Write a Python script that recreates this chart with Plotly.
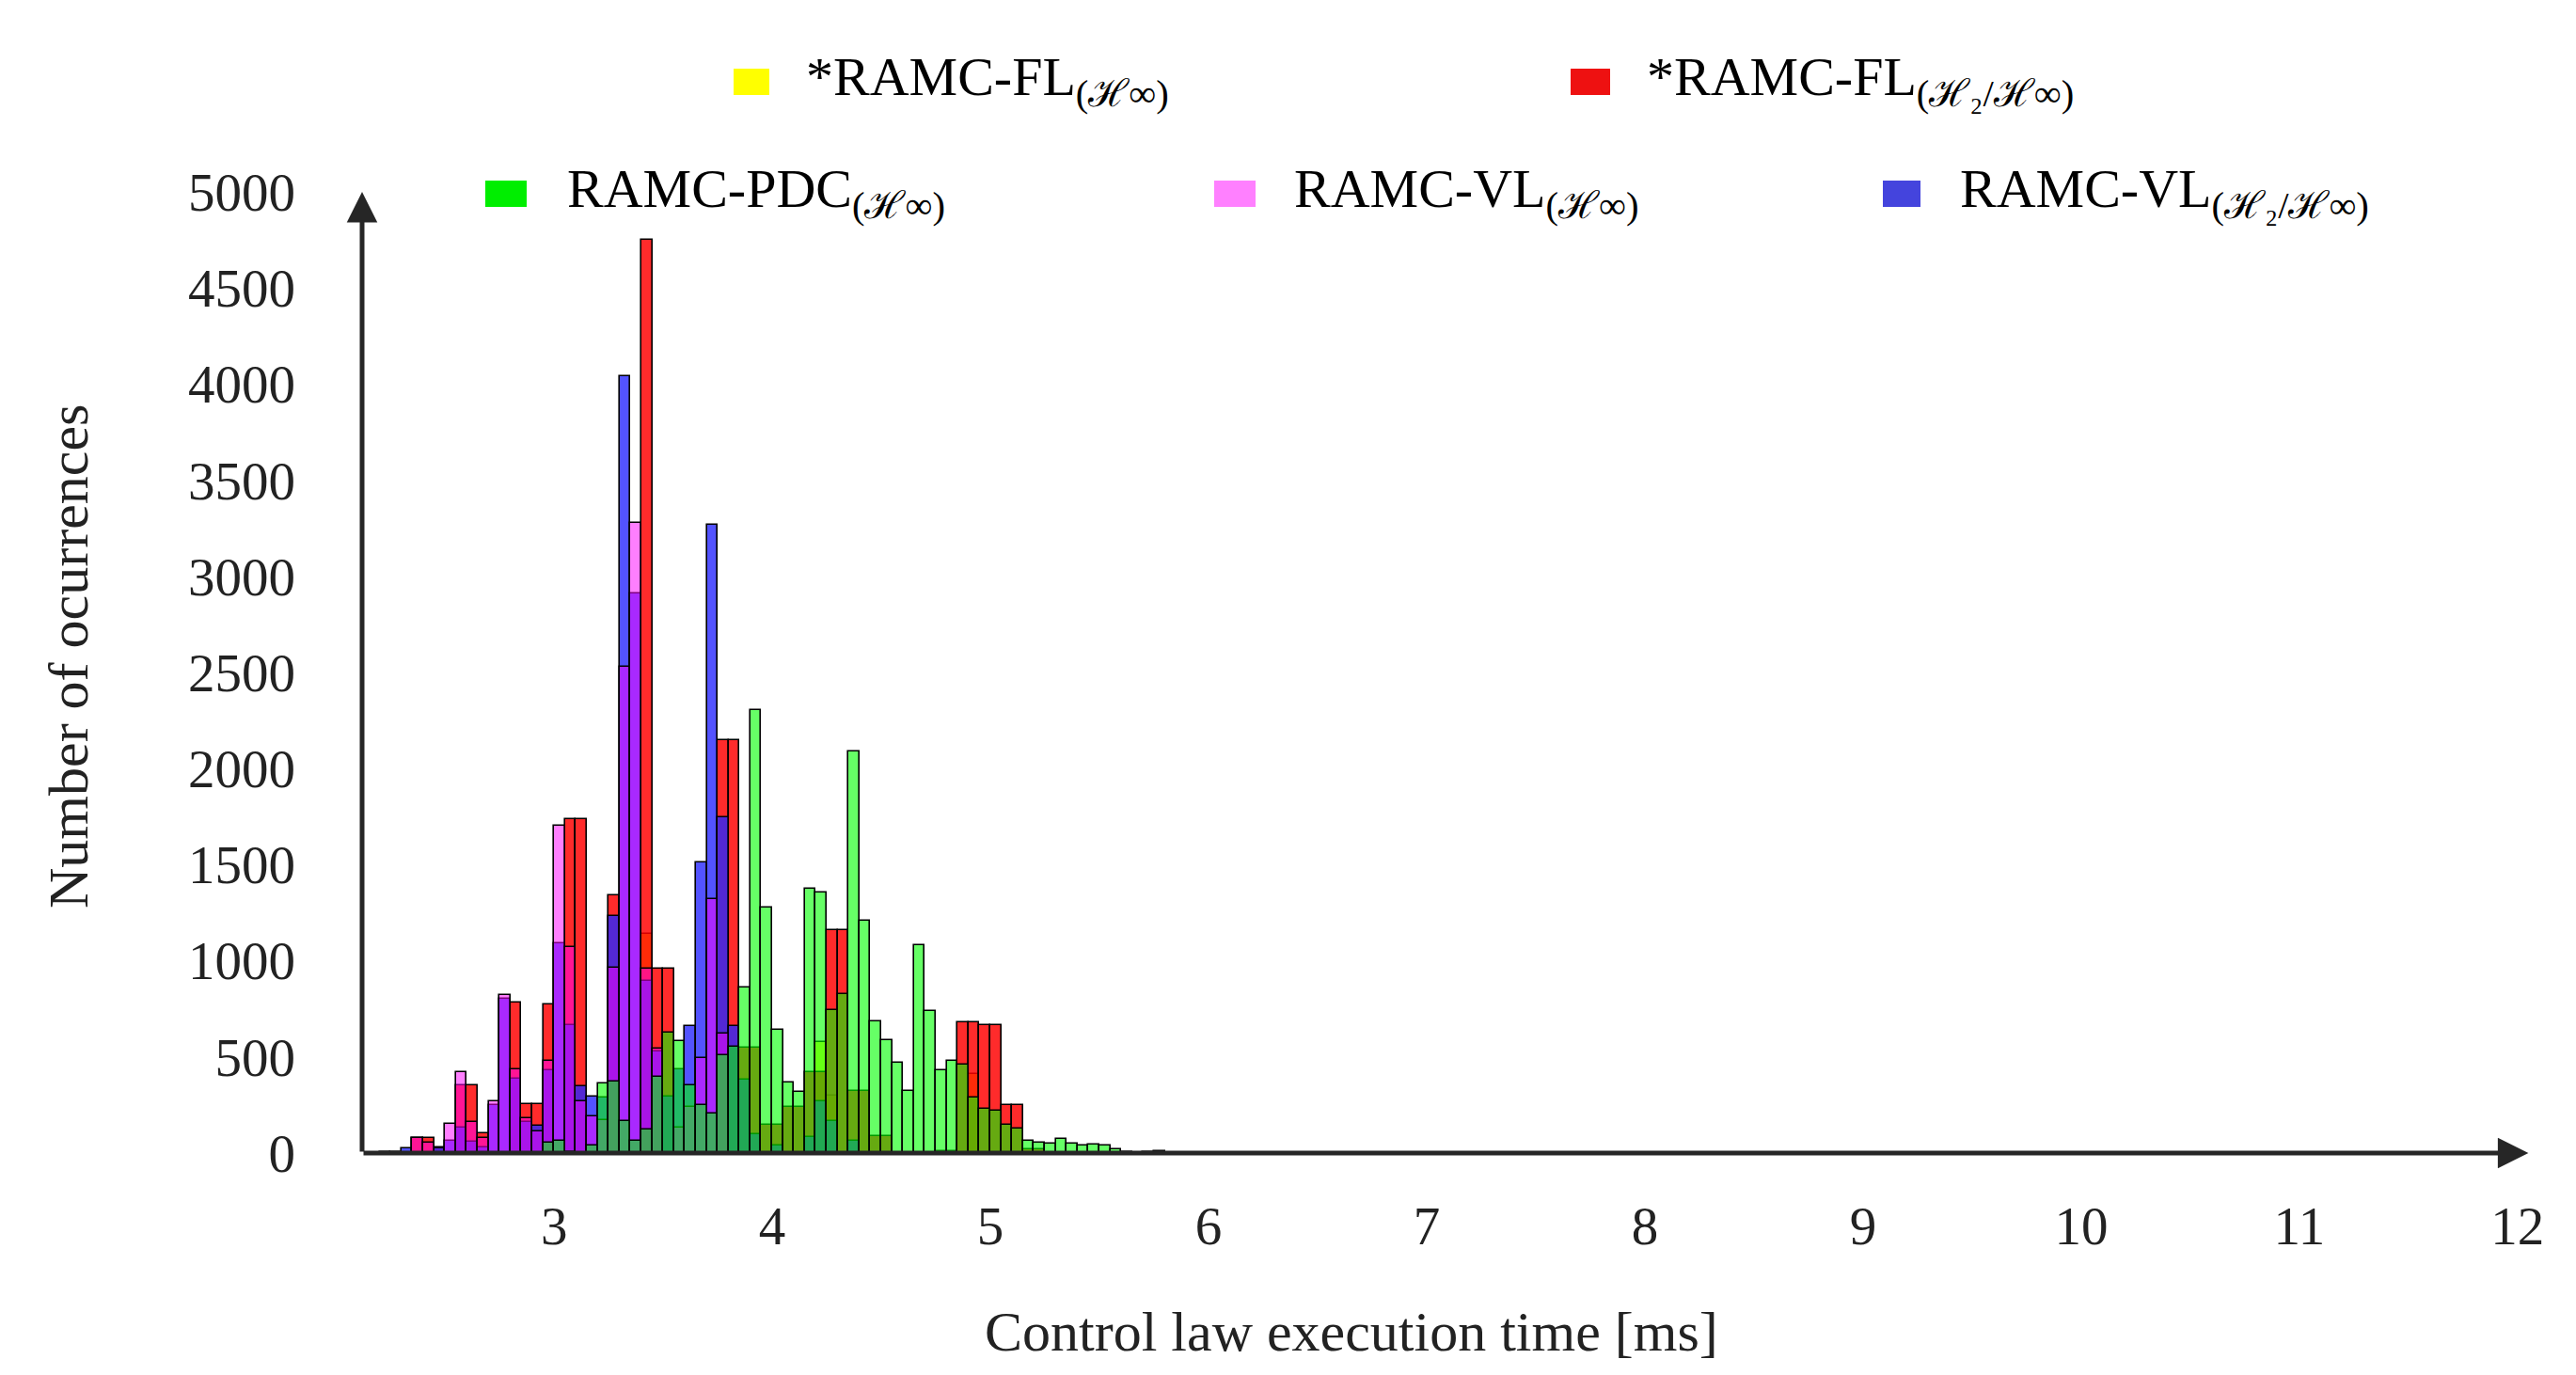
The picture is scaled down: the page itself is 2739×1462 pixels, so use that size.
import plotly.graph_objects as go

# histogram bin left edges [ms], 0.05 ms bins from 2.20 to 5.75
bin_left = [round(2.20 + 0.05 * i, 2) for i in range(72)]
bin_width = 0.05

def series(d):
    return [d.get(i, 0) for i in range(len(bin_left))]

fl_hinf = series({24: 1140, 40: 575, 41: 300, 54: 410})
fl_h2hinf = series({0: 5, 1: 5, 3: 77, 4: 77, 5: 31, 7: 350, 8: 350, 9: 101, 12: 784, 13: 256, 14: 256,
                    15: 775, 17: 1738, 18: 1738, 21: 1341, 24: 4750, 25: 959, 26: 959, 31: 2147, 32: 2147,
                    33: 548, 34: 548, 35: 148, 36: 148, 37: 238, 38: 238, 39: 422, 40: 422, 41: 1160,
                    42: 1160, 43: 321, 44: 321, 45: 87, 46: 87, 51: 10, 52: 10, 53: 681, 54: 681, 55: 666,
                    56: 666, 57: 251, 58: 251, 59: 17, 60: 17})
pdc_hinf = series({15: 53, 16: 63, 17: 5, 19: 39, 20: 363, 21: 371, 22: 166, 23: 63, 24: 124, 25: 397,
                   26: 625, 27: 581, 28: 350, 29: 247, 30: 203, 31: 507, 32: 552, 33: 862, 34: 2306,
                   35: 1275, 36: 640, 37: 367, 38: 317, 39: 1375, 40: 1354, 41: 742, 42: 825, 43: 2087,
                   44: 1208, 45: 686, 46: 585, 47: 470, 48: 321, 49: 1083, 50: 740, 51: 432, 52: 481,
                   53: 459, 54: 290, 55: 231, 56: 221, 57: 148, 58: 125, 59: 63, 60: 54, 61: 48, 62: 72,
                   63: 48, 64: 37, 65: 42, 66: 37, 67: 17, 68: 4, 70: 4, 71: 9})
vl_hinf = series({3: 77, 4: 54, 6: 151, 7: 419, 8: 160, 9: 77, 10: 270, 11: 820, 12: 437, 13: 183,
                  14: 110, 15: 480, 16: 1700, 17: 1070, 18: 271, 19: 188, 20: 170, 21: 963, 22: 2530,
                  23: 3280, 24: 959, 25: 544, 27: 133, 28: 238, 29: 496, 30: 1323, 31: 622})
vl_h2hinf = series({2: 22, 5: 22, 6: 65, 7: 131, 8: 59, 9: 31, 10: 250, 11: 800, 12: 386, 13: 160,
                    14: 142, 15: 430, 16: 1090, 17: 666, 18: 349, 19: 293, 20: 290, 21: 1231, 22: 4040,
                    23: 2910, 24: 896, 25: 526, 26: 293, 27: 437, 28: 662, 29: 1511, 30: 3270, 31: 1747,
                    32: 662, 33: 382, 34: 96, 36: 37, 39: 83, 40: 267, 41: 164, 43: 65})

names = ["*RAMC-FL<sub>(ℋ∞)</sub>", "*RAMC-FL<sub>(ℋ₂/ℋ∞)</sub>", "RAMC-PDC<sub>(ℋ∞)</sub>",
         "RAMC-VL<sub>(ℋ∞)</sub>", "RAMC-VL<sub>(ℋ₂/ℋ∞)</sub>"]
x_ticks = [3, 4, 5, 6, 7, 8, 9, 10, 11, 12]
y_ticks = [0, 500, 1000, 1500, 2000, 2500, 3000, 3500, 4000, 4500, 5000]

fills = ["rgba(255,255,0,0.8)", "rgba(255,0,0,0.83)", "rgba(0,255,0,0.6)",
         "rgba(255,0,255,0.5)", "rgba(40,40,255,0.8)"]
legend_cols = ["#ffff00", "#ee1111", "#00ee00", "#ff80ff", "#4444dd"]
order = [fl_hinf, fl_h2hinf, vl_h2hinf, vl_hinf, pdc_hinf]
order_idx = [0, 1, 4, 3, 2]

centers = [b + bin_width / 2 for b in bin_left]
fig = go.Figure()
for data, k in zip(order, order_idx):
    fig.add_trace(go.Bar(x=centers, y=data, width=bin_width, marker=dict(color=fills[k],
                  line=dict(color="black", width=1.6)), showlegend=False))

FONT = "Liberation Serif"
W, H = 2739, 1462
L, R, T, B = 377, 47, 196, 240
pw, ph = W - L - R, H - T - B

def px(xr):
    return (xr - L) / pw

def py(yr):
    return (H - B - yr) / ph

# legend
leg = [(0, 772, 810, 847, 79), (1, 1662, 1704, 1741, 79), (2, 508, 552, 593, 198),
       (3, 1283, 1327, 1366, 198), (4, 1994, 2034, 2074, 198)]
shapes = []
ann = []
for k, x0, x1, xt, yc in leg:
    shapes.append(dict(type="rect", xref="paper", yref="paper", x0=px(x0), x1=px(x1),
                       y0=py(yc + 14), y1=py(yc - 14), fillcolor=legend_cols[k], line=dict(width=0)))
    ann.append(dict(xref="paper", yref="paper", x=px(xt), y=py(yc - 2), text=names[k], showarrow=False,
                    xanchor="left", yanchor="middle", font=dict(family=FONT, size=58, color="black")))

# axis titles
ann.append(dict(xref="paper", yref="paper", x=px(1429), y=py(1408), text="Control law execution time [ms]",
                showarrow=False, xanchor="center", yanchor="middle", font=dict(family=FONT, size=60, color="#222")))
ann.append(dict(xref="paper", yref="paper", x=px(65), y=py(690), text="Number of ocurrences", textangle=-90,
                showarrow=False, xanchor="center", yanchor="middle", font=dict(family=FONT, size=60, color="#222")))

# axis arrows
ann.append(dict(x=12.05, y=0, ax=2.12, ay=0, xref="x", yref="y", axref="x", ayref="y", text="",
                showarrow=True, arrowhead=2, arrowsize=1.3, arrowwidth=5, arrowcolor="#262626"))
ann.append(dict(x=2.12, y=5000, ax=2.12, ay=0, xref="x", yref="y", axref="x", ayref="y", text="",
                showarrow=True, arrowhead=2, arrowsize=1.3, arrowwidth=5, arrowcolor="#262626"))

fig.update_layout(
    width=W, height=H, barmode="overlay", bargap=0, plot_bgcolor="white", paper_bgcolor="white",
    margin=dict(l=L, r=R, t=T, b=B), shapes=shapes, annotations=ann,
    font=dict(family=FONT, size=56, color="#222"),
    xaxis=dict(range=[2.12, 12.1], tickvals=x_ticks, showgrid=False, zeroline=False, showline=False,
               ticks="", tickfont=dict(size=57), ticklabelstandoff=35),
    yaxis=dict(range=[-20, 5000], tickvals=y_ticks, showgrid=False, zeroline=False, showline=False,
               ticks="", tickfont=dict(size=57), ticklabelstandoff=70),
)
fig.write_html("out.html")
